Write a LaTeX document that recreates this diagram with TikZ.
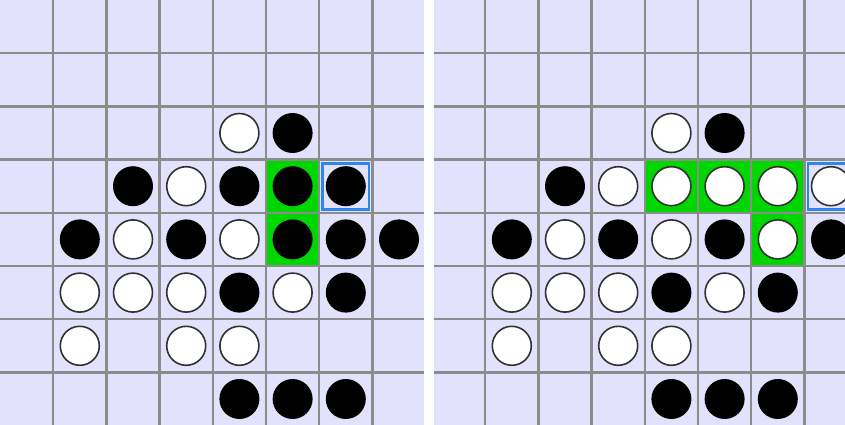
\documentclass[tikz,border=0pt]{standalone}
\definecolor{boardbg}{RGB}{226,226,252}
\definecolor{gridgray}{RGB}{140,140,140}
\definecolor{hlgreen}{RGB}{0,214,0}
\definecolor{hlblue}{RGB}{45,135,235}
\definecolor{rimgray}{RGB}{50,50,50}
\begin{document}
\begin{tikzpicture}[x=1pt,y=-1pt,
  gridline/.style={draw=gridgray,line width=2.4pt},
  blackdisc/.style={circle,inner sep=0pt,minimum size=40pt,fill=black},
  whitedisc/.style={circle,inner sep=0pt,minimum size=39pt,fill=white,draw=rimgray,line width=1.6pt},
  greencell/.style={fill=hlgreen},
  lastmove/.style={draw=hlblue,line width=2.8pt}]
\useasboundingbox (0,0) rectangle (845,425);
\clip (0,0) rectangle (845,425);
\def\s{53.2}
% board backgrounds
\fill[boardbg] (0,0) rectangle (424,425);
\fill[boardbg] (434,0) rectangle (845,425);
% green highlighted cells
\foreach \r/\c in {3/5,4/5}
  \fill[greencell] ({\c*\s},{\r*\s}) rectangle ({(\c+1)*\s},{(\r+1)*\s});
\foreach \r/\c in {3/4,3/5,3/6,4/6}
  \fill[greencell] ({432+\c*\s},{\r*\s}) rectangle ({432+(\c+1)*\s},{(\r+1)*\s});
% grid lines
\foreach \k in {1,...,7}{
  \draw[gridline] ({\k*\s},0) -- ({\k*\s},425);
  \draw[gridline] (0,{\k*\s}) -- (424,{\k*\s});
  \draw[gridline] ({432+\k*\s},0) -- ({432+\k*\s},425);
  \draw[gridline] (434,{\k*\s}) -- (845,{\k*\s});
}
% last move boxes
\draw[lastmove] ({6*\s+3.5},{3*\s+3.5}) rectangle ({7*\s-3.5},{4*\s-3.5});
\draw[lastmove] ({432+7*\s+3.5},{3*\s+3.5}) rectangle ({432+8*\s-3.5},{4*\s-3.5});
% left board discs
\foreach \r/\c in {2/5,3/2,3/4,3/5,3/6,4/1,4/3,4/5,4/6,4/7,5/4,5/6,7/4,7/5,7/6}
  \node[blackdisc] (L-\r-\c) at ({(\c+0.5)*\s},{(\r+0.5)*\s}) {};
\foreach \r/\c in {2/4,3/3,4/2,4/4,5/1,5/2,5/3,5/5,6/1,6/3,6/4}
  \node[whitedisc] (L-\r-\c) at ({(\c+0.5)*\s},{(\r+0.5)*\s}) {};
% right board discs
\foreach \r/\c in {2/5,3/2,4/1,4/3,4/5,4/7,5/4,5/6,7/4,7/5,7/6}
  \node[blackdisc] (R-\r-\c) at ({432+(\c+0.5)*\s},{(\r+0.5)*\s}) {};
\foreach \r/\c in {2/4,3/3,3/4,3/5,3/6,3/7,4/2,4/4,4/6,5/1,5/2,5/3,5/5,6/1,6/3,6/4}
  \node[whitedisc] (R-\r-\c) at ({432+(\c+0.5)*\s},{(\r+0.5)*\s}) {};
\end{tikzpicture}
\end{document}
